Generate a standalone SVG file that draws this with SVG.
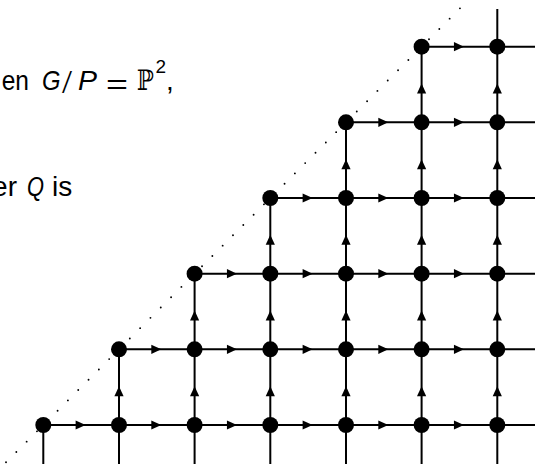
<svg xmlns="http://www.w3.org/2000/svg" xmlns:xlink="http://www.w3.org/1999/xlink" width="535" height="464" viewBox="0 0 535 464">
<style>
.t{font-family:"Liberation Sans","DejaVu Sans",sans-serif;font-size:28px;fill:#000}
.i{font-style:italic}
.ln{fill:none;stroke:#000;stroke-width:2}
.dot{fill:none;stroke:#000;stroke-width:1.9;stroke-linecap:round;stroke-dasharray:0 14.59}
</style>
<defs>
<path id="ah" d="M-5.5,-4.6 L4.5,0 L-5.5,4.6 Z" fill="#000"/>
<circle id="nd" r="8" fill="#000"/>
</defs>
<g id="text">
<text class="t" x="1.7" y="90" textLength="27.3" lengthAdjust="spacingAndGlyphs">en</text>
<text class="t i" x="42" y="90" textLength="18.5" lengthAdjust="spacingAndGlyphs">G</text>
<text class="t" x="62" y="93" style="font-family:'Liberation Serif',serif;font-size:34px" textLength="10" lengthAdjust="spacingAndGlyphs">/</text>
<text class="t i" x="78" y="90" textLength="19" lengthAdjust="spacingAndGlyphs">P</text>
<text class="t" x="106" y="94" textLength="22" lengthAdjust="spacingAndGlyphs">=</text>
<text class="t" x="137" y="90" style="font-family:'DejaVu Serif',serif" textLength="17" lengthAdjust="spacingAndGlyphs">ℙ</text>
<text class="t" x="155.5" y="73.3" style="font-size:19px">2</text>
<text class="t" x="166" y="90">,</text>
<text class="t" x="17" y="196" text-anchor="end">er</text>
<text class="t i" x="27" y="196" textLength="17" lengthAdjust="spacingAndGlyphs">Q</text>
<text class="t" x="52" y="196">is</text>
</g>
<g id="connectors">
<line class="dot" x1="-4.3" y1="472.6" x2="470.3" y2="-2"/>
<path class="ln" d="M43.3 425H535 M119 349.3H535 M194.6 273.7H535 M270.3 198H535 M346 122.3H535 M421.6 46.7H535"/>
<path class="ln" d="M43.3 425V464 M119 349.3V464 M194.6 273.7V464 M270.3 198V464 M346 122.3V464 M421.6 46.7V464 M497.3 9V464"/>
<g id="harrows">
<use xlink:href="#ah" x="81.15" y="425"/><use xlink:href="#ah" x="156.8" y="425"/><use xlink:href="#ah" x="232.45" y="425"/><use xlink:href="#ah" x="308.15" y="425"/><use xlink:href="#ah" x="383.8" y="425"/><use xlink:href="#ah" x="459.45" y="425"/>
<use xlink:href="#ah" x="156.8" y="349.3"/><use xlink:href="#ah" x="232.45" y="349.3"/><use xlink:href="#ah" x="308.15" y="349.3"/><use xlink:href="#ah" x="383.8" y="349.3"/><use xlink:href="#ah" x="459.45" y="349.3"/>
<use xlink:href="#ah" x="232.45" y="273.7"/><use xlink:href="#ah" x="308.15" y="273.7"/><use xlink:href="#ah" x="383.8" y="273.7"/><use xlink:href="#ah" x="459.45" y="273.7"/>
<use xlink:href="#ah" x="308.15" y="198"/><use xlink:href="#ah" x="383.8" y="198"/><use xlink:href="#ah" x="459.45" y="198"/>
<use xlink:href="#ah" x="383.8" y="122.3"/><use xlink:href="#ah" x="459.45" y="122.3"/>
<use xlink:href="#ah" x="459.45" y="46.7"/>
</g>
<g id="varrows">
<use xlink:href="#ah" transform="translate(119,390.65) rotate(-90)"/>
<use xlink:href="#ah" transform="translate(194.6,390.65) rotate(-90)"/><use xlink:href="#ah" transform="translate(194.6,315) rotate(-90)"/>
<use xlink:href="#ah" transform="translate(270.3,390.65) rotate(-90)"/><use xlink:href="#ah" transform="translate(270.3,315) rotate(-90)"/><use xlink:href="#ah" transform="translate(270.3,239.35) rotate(-90)"/>
<use xlink:href="#ah" transform="translate(346,390.65) rotate(-90)"/><use xlink:href="#ah" transform="translate(346,315) rotate(-90)"/><use xlink:href="#ah" transform="translate(346,239.35) rotate(-90)"/><use xlink:href="#ah" transform="translate(346,163.65) rotate(-90)"/>
<use xlink:href="#ah" transform="translate(421.6,390.65) rotate(-90)"/><use xlink:href="#ah" transform="translate(421.6,315) rotate(-90)"/><use xlink:href="#ah" transform="translate(421.6,239.35) rotate(-90)"/><use xlink:href="#ah" transform="translate(421.6,163.65) rotate(-90)"/><use xlink:href="#ah" transform="translate(421.6,88) rotate(-90)"/>
<use xlink:href="#ah" transform="translate(497.3,390.65) rotate(-90)"/><use xlink:href="#ah" transform="translate(497.3,315) rotate(-90)"/><use xlink:href="#ah" transform="translate(497.3,239.35) rotate(-90)"/><use xlink:href="#ah" transform="translate(497.3,163.65) rotate(-90)"/><use xlink:href="#ah" transform="translate(497.3,88) rotate(-90)"/>
</g>
</g>
<g id="nodes">
<g id="n00"><use xlink:href="#nd" x="43.3" y="425"/></g>
<g id="n10"><use xlink:href="#nd" x="119" y="425"/></g>
<g id="n11"><use xlink:href="#nd" x="119" y="349.3"/></g>
<g id="n20"><use xlink:href="#nd" x="194.6" y="425"/></g>
<g id="n21"><use xlink:href="#nd" x="194.6" y="349.3"/></g>
<g id="n22"><use xlink:href="#nd" x="194.6" y="273.7"/></g>
<g id="n30"><use xlink:href="#nd" x="270.3" y="425"/></g>
<g id="n31"><use xlink:href="#nd" x="270.3" y="349.3"/></g>
<g id="n32"><use xlink:href="#nd" x="270.3" y="273.7"/></g>
<g id="n33"><use xlink:href="#nd" x="270.3" y="198"/></g>
<g id="n40"><use xlink:href="#nd" x="346" y="425"/></g>
<g id="n41"><use xlink:href="#nd" x="346" y="349.3"/></g>
<g id="n42"><use xlink:href="#nd" x="346" y="273.7"/></g>
<g id="n43"><use xlink:href="#nd" x="346" y="198"/></g>
<g id="n44"><use xlink:href="#nd" x="346" y="122.3"/></g>
<g id="n50"><use xlink:href="#nd" x="421.6" y="425"/></g>
<g id="n51"><use xlink:href="#nd" x="421.6" y="349.3"/></g>
<g id="n52"><use xlink:href="#nd" x="421.6" y="273.7"/></g>
<g id="n53"><use xlink:href="#nd" x="421.6" y="198"/></g>
<g id="n54"><use xlink:href="#nd" x="421.6" y="122.3"/></g>
<g id="n55"><use xlink:href="#nd" x="421.6" y="46.7"/></g>
<g id="n60"><use xlink:href="#nd" x="497.3" y="425"/></g>
<g id="n61"><use xlink:href="#nd" x="497.3" y="349.3"/></g>
<g id="n62"><use xlink:href="#nd" x="497.3" y="273.7"/></g>
<g id="n63"><use xlink:href="#nd" x="497.3" y="198"/></g>
<g id="n64"><use xlink:href="#nd" x="497.3" y="122.3"/></g>
<g id="n65"><use xlink:href="#nd" x="497.3" y="46.7"/></g>
</g>
</svg>
